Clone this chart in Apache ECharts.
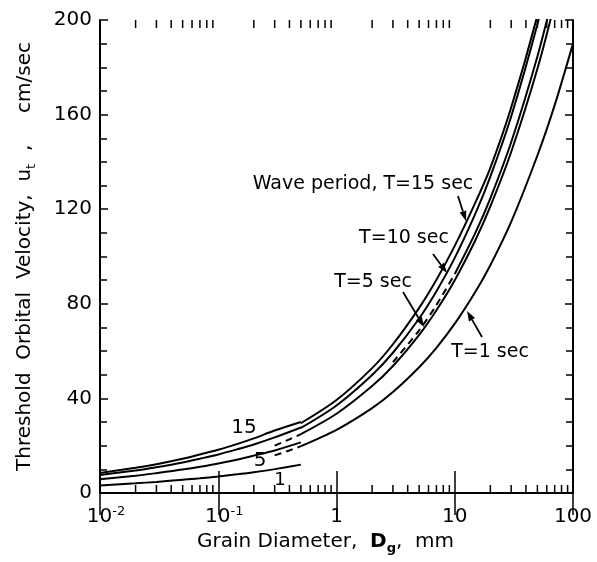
<!DOCTYPE html>
<html><head><meta charset="utf-8">
<script src="https://cdn.jsdelivr.net/npm/echarts@6/dist/echarts.min.js"></script>
<style>html,body{margin:0;padding:0;background:#fff}#c{width:597px;height:562px}</style>
</head><body><div id="c"></div>
<script>
// ---- data (grain diameter in mm, threshold orbital velocity in cm/sec) ----
const grainFine = [0.01, 0.02, 0.03, 0.05, 0.07, 0.1, 0.15, 0.2, 0.3, 0.5];
const fineT15 = [8.5, 10.7, 12.2, 14.5, 16.3, 18.3, 21.0, 23.1, 26.4, 30.0];
const fineT10 = [7.6, 9.5, 10.9, 12.9, 14.5, 16.3, 18.7, 20.5, 23.5, 27.7];
const fineT5  = [5.8, 7.3, 8.4, 9.9, 11.1, 12.5, 14.3, 15.8, 18.0, 21.4];
const fineT1  = [3.2, 4.1, 4.7, 5.6, 6.2, 7.0, 8.0, 8.8, 10.1, 12.0];

const grainCoarse = [0.5, 1, 2, 3, 5, 7, 10, 15, 20, 30, 50, 70, 100];
const coarseT15 = [29.5, 39.3, 52.8, 62.9, 78.3, 90.2, 104.5, 123.0, 137.5, 163.0, 202.0, 234.0, 270];
const coarseT10 = [27.5, 37.0, 49.9, 59.3, 73.8, 85.3, 99.4, 118.3, 133.8, 159.2, 198.2, 228.9, 266];
const coarseT5  = [24.9, 33.5, 45.2, 53.7, 66.9, 77.3, 90.0, 107.1, 121.2, 144.2, 179.4, 207.3, 241];
const coarseT1  = [19.8, 26.7, 35.9, 42.7, 53.2, 61.4, 71.6, 85.2, 96.3, 114.6, 142.7, 164.0, 190];

const grainExtraDash = [3, 5, 7, 10];
const extraDash = [55.3, 68.8, 79.5, 92.6];
const grainExtra = [10, 15, 20, 30, 50, 70];
const extraSolid = [92.6, 110.2, 124.6, 148.3, 184.6, 213.2];

const grainBridge = [0.3, 0.4, 0.5];
const bridgeT5 = [20.0, 22.7, 24.9];
const bridgeT1 = [15.9, 18.0, 19.8];

const yTicks = [0, 40, 80, 120, 160, 200];
const decades = [0.01, 0.1, 1, 10];
const minorMult = [2, 3, 4, 5, 6, 7, 8, 9];
const logMinorTicks = [];
decades.forEach(d => minorMult.forEach(m => logMinorTicks.push([+(d * m).toPrecision(3), 0])));

const FONT = 'DejaVu Sans';
const chart = echarts.init(document.getElementById('c'), null, {renderer: 'canvas'});

function line(xs, ys, dashed) {
  return {
    type: 'line', xAxisIndex: 0, yAxisIndex: 0,
    data: xs.map((x, i) => [x, ys[i]]),
    symbol: 'none', smooth: 0.3, clip: true, silent: true,
    lineStyle: {color: '#000', width: 2, type: dashed ? [7, 5] : 'solid'}
  };
}

const axisLineStyle = {show: true, lineStyle: {color: '#000', width: 2}};

const option = {
  backgroundColor: '#fff',
  animation: false,
  grid: {left: 100, right: 24, top: 20, bottom: 69},
  xAxis: [{
    type: 'log', logBase: 10, min: 0.01, max: 100, splitNumber: 4,
    position: 'bottom',
    axisLine: axisLineStyle,
    axisTick: {show: true, inside: true, length: 22, lineStyle: {color: '#000', width: 1.5}},
    splitLine: {show: false},
    axisLabel: {
      margin: 12, color: '#000', fontFamily: FONT,
      formatter: v => {
        const e = Math.round(Math.log10(v));
        return e < 0 ? '{m|10}{p|' + e + '}' : '{n|' + Math.round(Math.pow(10, e)) + '}';
      },
      rich: {
        n: {fontSize: 20, fontFamily: FONT, color: '#000', lineHeight: 24},
        m: {fontSize: 20, fontFamily: FONT, color: '#000', lineHeight: 24, padding: [0, 0, 0, 12]},
        p: {fontSize: 13, fontFamily: FONT, color: '#000', lineHeight: 13, verticalAlign: 'top'}
      }
    },
    name: '{a|Grain Diameter,  }{b|D}{s|g}{a|,  mm}',
    nameLocation: 'middle', nameGap: 34,
    nameTextStyle: {
      padding: [0, 22, 0, 0],
      rich: {
        a: {fontSize: 20, fontFamily: FONT, color: '#000', lineHeight: 26},
        b: {fontSize: 20, fontFamily: FONT, fontWeight: 'bold', color: '#000', lineHeight: 26},
        s: {fontSize: 13, fontFamily: FONT, fontWeight: 'bold', color: '#000', lineHeight: 12, verticalAlign: 'bottom'}
      }
    }
  }, {
    type: 'log', logBase: 10, min: 0.01, max: 100, splitNumber: 4,
    position: 'top',
    axisLine: axisLineStyle,
    axisTick: {show: true, inside: true, length: 22, lineStyle: {color: '#000', width: 1.5}},
    axisLabel: {show: false}, splitLine: {show: false}
  }],
  yAxis: [{
    type: 'value', min: 0, max: 200, interval: 40,
    position: 'left',
    axisLine: axisLineStyle,
    axisTick: {show: true, inside: true, length: 8, lineStyle: {color: '#000', width: 1.5}},
    minorTick: {show: true, splitNumber: 4, length: 7, lineStyle: {color: '#000', width: 1.5}},
    splitLine: {show: false},
    axisLabel: {margin: 8, color: '#000', fontSize: 20, fontFamily: FONT,
      formatter: v => yTicks.indexOf(v) >= 0 ? String(v) : ''},
    name: '{a|Threshold  Orbital  Velocity,  u}{s|t}{a|  ,     cm/sec}',
    nameLocation: 'middle', nameGap: 62,
    nameTextStyle: {
      rich: {
        a: {fontSize: 20, fontFamily: FONT, color: '#000', lineHeight: 26},
        s: {fontSize: 13, fontFamily: FONT, color: '#000', lineHeight: 12, verticalAlign: 'bottom'}
      }
    }
  }, {
    type: 'value', min: 0, max: 200, interval: 40,
    position: 'right',
    axisLine: axisLineStyle,
    axisTick: {show: true, inside: true, length: 8, lineStyle: {color: '#000', width: 1.5}},
    minorTick: {show: true, splitNumber: 4, length: 7, lineStyle: {color: '#000', width: 1.5}},
    splitLine: {show: false},
    axisLabel: {show: false}
  }],
  series: [
    line(grainFine, fineT15), line(grainFine, fineT10), line(grainFine, fineT5), line(grainFine, fineT1),
    line(grainCoarse, coarseT15), line(grainCoarse, coarseT10), line(grainCoarse, coarseT5), line(grainCoarse, coarseT1),
    line(grainExtraDash, extraDash, true), line(grainExtra, extraSolid),
    line(grainBridge, bridgeT5, true), line(grainBridge, bridgeT1, true),
    {
      type: 'custom', xAxisIndex: 0, yAxisIndex: 0, silent: true, clip: false,
      data: logMinorTicks,
      encode: {x: 0, y: 1},
      renderItem: (params, api) => {
        const x = api.coord([api.value(0), 0])[0];
        const cs = params.coordSys;
        const b = cs.y + cs.height, t = cs.y;
        const st = {stroke: '#000', lineWidth: 1.5};
        return {type: 'group', children: [
          {type: 'line', shape: {x1: x, y1: b, x2: x, y2: b - 8}, style: st},
          {type: 'line', shape: {x1: x, y1: t, x2: x, y2: t + 8}, style: st}
        ]};
      }
    }
  ],
  graphic: []
};

function txt(s, x, y, size) {
  return {type: 'text', x: x, y: y, silent: true,
    style: {text: s, fill: '#000', font: (size || 19) + 'px "' + FONT + '"', textAlign: 'center', textVerticalAlign: 'middle'}};
}
function arrow(x1, y1, x2, y2) {
  const a = Math.atan2(y2 - y1, x2 - x1), L = 10, W = 3.5;
  const bx = x2 - L * Math.cos(a), by = y2 - L * Math.sin(a);
  const px = -Math.sin(a) * W, py = Math.cos(a) * W;
  return [
    {type: 'line', silent: true, shape: {x1: x1, y1: y1, x2: bx, y2: by}, style: {stroke: '#000', lineWidth: 1.8}},
    {type: 'polygon', silent: true, shape: {points: [[x2, y2], [bx + px, by + py], [bx - px, by - py]]}, style: {fill: '#000'}}
  ];
}
option.graphic = [
  txt('Wave period, T=15 sec', 363, 184),
  txt('T=10 sec', 404, 238),
  txt('T=5 sec', 373, 282),
  txt('T=1 sec', 490, 352),
  txt('15', 244, 428, 20),
  txt('5', 260, 461, 20),
  txt('1', 280, 480, 18),
  ...arrow(458, 196, 466, 221),
  ...arrow(433, 254, 447, 273),
  ...arrow(403, 292, 424, 327),
  ...arrow(482, 337, 467, 311)
];
chart.setOption(option);
</script></body></html>
